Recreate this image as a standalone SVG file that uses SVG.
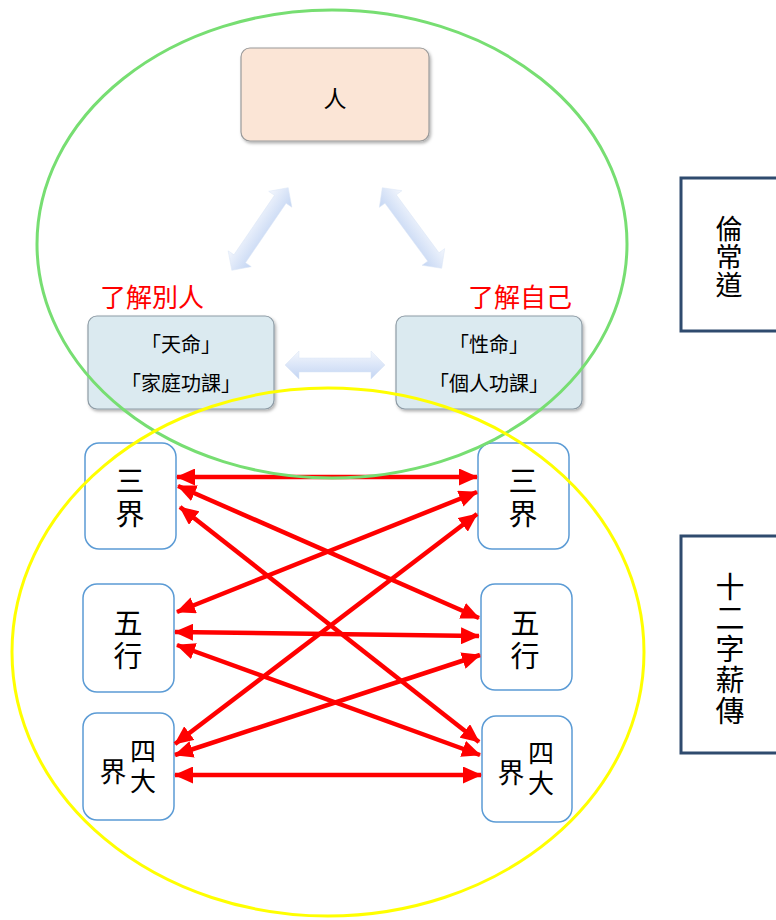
<svg xmlns="http://www.w3.org/2000/svg" width="776" height="920" viewBox="0 0 776 920">
<style>
text{font-family:"Noto Sans CJK TC","Noto Sans CJK SC",sans-serif;fill:#000;text-anchor:middle;dominant-baseline:central}
.red{fill:#ff0000;font-size:26px}
.lbl{font-size:20px}
.big{font-size:29px}
.v{writing-mode:vertical-rl}
.sm{font-size:26px}
.box{fill:#fff;stroke:#5b9bd5;stroke-width:1.5}
.vbox{fill:#fff;stroke:#2f4b6e;stroke-width:3}
.ra{stroke:#ff0000;stroke-width:4.5;fill:none;marker-start:url(#ah);marker-end:url(#ah)}
.ba{fill:url(#bg);stroke:#dbe5f5;stroke-width:0.5}
</style>
<defs>
<marker id="ah" markerUnits="userSpaceOnUse" markerWidth="21" markerHeight="17" refX="18" refY="8.5" orient="auto-start-reverse">
<path d="M0,0 L19,8.5 L0,17 z" fill="#ff0000"/>
</marker>
<linearGradient id="bg" x1="0" y1="0" x2="0" y2="1">
<stop offset="0" stop-color="#f4f7fd"/>
<stop offset="1" stop-color="#c3d5f3"/>
</linearGradient>
<filter id="sh" x="-10%" y="-10%" width="130%" height="130%">
<feDropShadow dx="1.5" dy="2" stdDeviation="1.5" flood-color="#000" flood-opacity="0.3"/>
</filter>
<path id="dbl" d="M-50,0 L-36,-14 L-36,-7 L36,-7 L36,-14 L50,0 L36,14 L36,7 L-36,7 L-36,14 Z"/>
</defs>

<g id="node-ren">
<rect x="241" y="48" width="188" height="93" rx="9" fill="#fbe5d6" stroke="#9a9a9a" stroke-width="1.2" filter="url(#sh)"/>
<text x="335" y="97" style="font-size:23px">人</text>
</g>
<g id="node-tianming">
<rect x="88" y="316" width="186" height="93" rx="9" fill="#dbeaf0" stroke="#8e9ca6" stroke-width="1.2" filter="url(#sh)"/>
<text class="lbl" x="181" y="343">「天命」</text>
<text class="lbl" x="181" y="382">「家庭功課」</text>
</g>
<g id="node-xingming">
<rect x="396" y="316" width="186" height="93" rx="9" fill="#dbeaf0" stroke="#8e9ca6" stroke-width="1.2" filter="url(#sh)"/>
<text class="lbl" x="489" y="343">「性命」</text>
<text class="lbl" x="489" y="382">「個人功課」</text>
</g>
<g id="label-others"><text class="red" x="152" y="295">了解別人</text></g>
<g id="label-self"><text class="red" x="520" y="295">了解自己</text></g>

<g id="node-lunchangdao">
<rect class="vbox" x="681" y="178" width="110" height="153"/>
<text class="v" x="729" y="257" style="font-size:27px;letter-spacing:1px">倫常道</text>
</g>
<g id="node-shierzi">
<rect class="vbox" x="681" y="536" width="110" height="217"/>
<text class="v" x="730" y="650" style="font-size:29px;letter-spacing:2px">十二字薪傳</text>
</g>

<g id="node-sanjie-l">
<rect class="box" x="85" y="443" width="91" height="106" rx="14"/>
<text class="big v" x="130" y="499" style="letter-spacing:4px">三界</text>
</g>
<g id="node-sanjie-r">
<rect class="box" x="478" y="443" width="91" height="106" rx="14"/>
<text class="big v" x="523" y="499" style="letter-spacing:4px">三界</text>
</g>
<g id="node-wuxing-l">
<rect class="box" x="83" y="584" width="91" height="108" rx="14"/>
<text class="big v" x="128" y="641" style="letter-spacing:4px">五行</text>
</g>
<g id="node-wuxing-r">
<rect class="box" x="481" y="584" width="91" height="106" rx="14"/>
<text class="big v" x="525" y="641" style="letter-spacing:4px">五行</text>
</g>
<g id="node-sidajie-l">
<rect class="box" x="83" y="713" width="91" height="107" rx="14"/>
<text x="113" y="770" style="font-size:27px">界</text>
<text class="sm v" x="143" y="768" style="letter-spacing:4px">四大</text>
</g>
<g id="node-sidajie-r">
<rect class="box" x="482" y="716" width="90" height="106" rx="14"/>
<text x="511" y="771" style="font-size:27px">界</text>
<text class="sm v" x="541" y="770" style="letter-spacing:4px">四大</text>
</g>

<g id="connectors">
<use href="#dbl" class="ba" transform="translate(260,229) rotate(-55.7)"/>
<use href="#dbl" class="ba" transform="translate(412,228) rotate(53.6)"/>
<use href="#dbl" class="ba" transform="translate(335,365)"/>
<line class="ra" x1="177" y1="477" x2="477" y2="477"/>
<line class="ra" x1="178" y1="486" x2="479" y2="618"/>
<line class="ra" x1="180" y1="507" x2="479" y2="742"/>
<line class="ra" x1="477" y1="492" x2="177" y2="612"/>
<line class="ra" x1="477" y1="514" x2="175" y2="744"/>
<line class="ra" x1="175" y1="632" x2="479" y2="636"/>
<line class="ra" x1="177" y1="645" x2="480" y2="755"/>
<line class="ra" x1="480" y1="655" x2="175" y2="755"/>
<line class="ra" x1="175" y1="775" x2="481" y2="775"/>
</g>

<g id="circles">
<ellipse cx="332" cy="244" rx="295" ry="234" fill="none" stroke="#77de72" stroke-width="3"/>
<ellipse cx="328" cy="652" rx="316" ry="264" fill="none" stroke="#ffff00" stroke-width="3"/>
</g>
</svg>
